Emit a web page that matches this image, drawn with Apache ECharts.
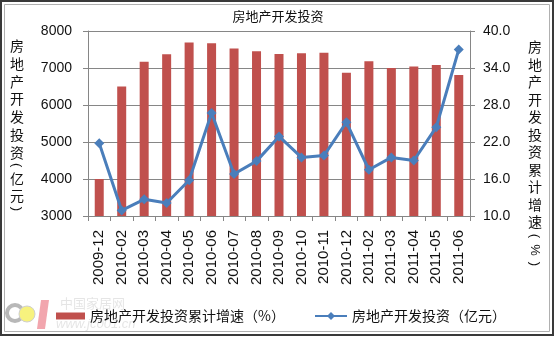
<!DOCTYPE html>
<html><head><meta charset="utf-8">
<script src="https://cdn.jsdelivr.net/npm/echarts@6/dist/echarts.min.js"></script>
<style>html,body{margin:0;padding:0;background:#fff}#c{width:556px;height:339px}</style>
</head><body><div id="c"></div>
<script>
var categories = ['2009-12','2010-02','2010-03','2010-04','2010-05','2010-06','2010-07','2010-08','2010-09','2010-10','2010-11','2010-12','2011-02','2011-03','2011-04','2011-05','2011-06'];
var barValues = [4000,6500,7170,7370,7690,7670,7530,7450,7380,7400,7410,6870,7180,7000,7040,7080,6810];
var lineValues = [21.8,10.9,12.7,12.1,15.8,26.7,16.8,18.9,22.9,19.5,19.8,25.2,17.5,19.5,19.0,24.4,37.0];
var leftTicks = {min:3000, max:8000, interval:1000};
var rightTicks = {min:10, max:40, interval:6};
var barName = '房地产开发投资累计增速（%）';
var lineName = '房地产开发投资（亿元）';
var titleText = '房地产开发投资';
var leftNameChars = ['房','地','产','开','发','投','资','(','亿','元',')'];
var rightNameChars = ['房','地','产','开','发','投','资','累','计','增','速','(','%',')'];

var CJK = '"Noto Sans CJK SC", sans-serif';
var NUM = '"Liberation Sans", Arial, sans-serif';
var axisGray = '#868686';

function vertical(chars, x, y0, step, half) {
  var out = [], y = y0;
  function small(c){ return c === '(' || c === ')' || c === '%'; }
  for (var i = 0; i < chars.length; i++) {
    var c = chars[i];
    if (i > 0) y += (small(chars[i-1]) || small(c)) ? half : step;
    out.push({
      type: 'text', x: x, y: y,
      rotation: small(c) ? -Math.PI/2 : 0,
      style: {text: c, font: (small(c) ? '13px ' + NUM : '14px ' + CJK), fill: '#111', align: 'center', verticalAlign: 'middle'}
    });
  }
  return out;
}

var graphics = [
  {type:'rect', shape:{x:1,y:1,width:552,height:334}, style:{fill:'none', stroke:'#3a3a3a', lineWidth:2}},
  {type:'rect', shape:{x:4.5,y:4.5,width:545,height:327}, style:{fill:'none', stroke:'#b0b0b0', lineWidth:1}},
  {type:'circle', shape:{cx:15, cy:313, r:8}, style:{fill:'none', stroke:'#b8b8b8', lineWidth:4}},
  {type:'circle', shape:{cx:27, cy:314, r:8}, style:{fill:'#f7f27e', stroke:'#cfcfcf', lineWidth:1}},
  {type:'polygon', shape:{points:[[41,300],[49,300],[45,329],[37,329]]}, style:{fill:'#f2a6ae'}},
  {type:'text', x:60, y:297, style:{text:'中国家居网', font:'13px ' + CJK, fill:'rgba(180,180,180,0.35)'}},
  {type:'text', x:56, y:318, style:{text:'www.jc001.cn', font:'italic 13px ' + NUM, fill:'rgba(180,180,180,0.35)'}}
];
graphics = graphics.concat(vertical(leftNameChars, 17, 46, 17.7, 13));
graphics = graphics.concat(vertical(rightNameChars, 535, 47, 17.5, 14));

var chart = echarts.init(document.getElementById('c'), null, {renderer:'canvas'});
chart.setOption({
  backgroundColor: '#fff',
  animation: false,
  title: {text: titleText, left: 'center', top: 5, textStyle: {fontFamily: CJK, fontSize: 13, fontWeight: 'normal', color: '#111'}},
  grid: {left: 88, right: 86, top: 31, bottom: 123, containLabel: false},
  legend: [
    {data: [barName], left: 51, top: 304, itemWidth: 29, itemHeight: 7, itemGap: 4,
     textStyle: {fontFamily: CJK, fontSize: 14, color: '#111'}, icon: 'rect'},
    {data: [lineName], left: 309, top: 304, itemWidth: 32, itemHeight: 10, itemGap: 4,
     textStyle: {fontFamily: CJK, fontSize: 14, color: '#111'}}
  ],
  xAxis: {
    type: 'category', data: categories, boundaryGap: true,
    axisLine: {lineStyle: {color: axisGray}},
    axisTick: {show: true, interval: 0, length: 5, lineStyle: {color: axisGray}},
    axisLabel: {interval: 0, rotate: 90, margin: 14, fontFamily: NUM, fontSize: 15, color: '#111'}
  },
  yAxis: [
    {type: 'value', min: leftTicks.min, max: leftTicks.max, interval: leftTicks.interval, position: 'left',
     axisLine: {show: true, lineStyle: {color: axisGray}},
     axisTick: {show: true, length: 5, lineStyle: {color: axisGray}},
     splitLine: {show: true, lineStyle: {color: axisGray, width: 1}},
     axisLabel: {margin: 16, fontFamily: NUM, fontSize: 14, color: '#111', formatter: function(v){return String(v);}}},
    {type: 'value', min: rightTicks.min, max: rightTicks.max, interval: rightTicks.interval, position: 'right',
     axisLine: {show: true, lineStyle: {color: axisGray}},
     axisTick: {show: true, length: 5, lineStyle: {color: axisGray}},
     splitLine: {show: false},
     axisLabel: {margin: 13, fontFamily: NUM, fontSize: 14, color: '#111', formatter: function(v){return v.toFixed(1);}}}
  ],
  series: [
    {name: barName, type: 'bar', yAxisIndex: 0, data: barValues, barWidth: 9,
     itemStyle: {color: '#C0504D'}},
    {name: lineName, type: 'line', yAxisIndex: 1, data: lineValues,
     symbol: 'diamond', symbolSize: 10, lineStyle: {color: '#4A7EBB', width: 3},
     itemStyle: {color: '#4A7EBB'}}
  ],
  graphic: graphics
});
</script>
</body></html>
